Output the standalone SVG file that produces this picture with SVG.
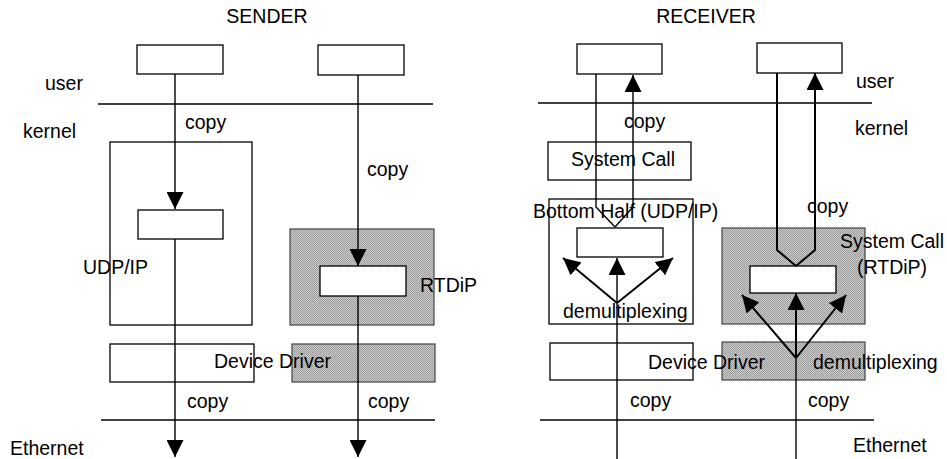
<svg xmlns="http://www.w3.org/2000/svg" width="947" height="459" viewBox="0 0 947 459">
  <defs>
    <!-- stippled grey fill used for the RTDiP blocks -->
    <pattern id="stipple" width="2" height="2" patternUnits="userSpaceOnUse">
      <rect width="2" height="2" fill="#cdcdcd"/>
      <rect width="1" height="1" fill="#9a9a9a"/>
      <rect x="1" y="1" width="1" height="1" fill="#9a9a9a"/>
    </pattern>
    <marker id="head" viewBox="0 0 17 17" refX="17" refY="8.5" markerWidth="17" markerHeight="17" markerUnits="userSpaceOnUse" orient="auto">
      <path d="M0,0 L17,8.5 L0,17 z" fill="#000"/>
    </marker>
  </defs>
  <style>
    text { font-family: "Liberation Sans", Arial, sans-serif; font-size: 19.5px; fill: #000; }
    .box { fill: #fff; stroke: #000; stroke-width: 1.3; }
    .shade { fill: url(#stipple); stroke: #444; stroke-width: 1.2; }
    .rule { stroke: #000; stroke-width: 1.3; fill: none; }
    .flow { stroke: #000; stroke-width: 1.4; fill: none; }
    .thick { stroke: #000; stroke-width: 2; fill: none; }
    .arr { marker-end: url(#head); }
  </style>
  <rect width="947" height="459" fill="#fff"/>

  <!-- ================= SENDER ================= -->
  <g id="sender-title"><text x="267" y="23" text-anchor="middle">SENDER</text></g>
  <g id="sender-layer-labels">
    <text x="45" y="90">user</text>
    <text x="23" y="138">kernel</text>
    <text x="10" y="455">Ethernet</text>
  </g>
  <g id="sender-user-app1"><rect class="box" x="137" y="45" width="86" height="29"/></g>
  <g id="sender-user-app2"><rect class="box" x="318" y="45" width="86" height="30"/></g>

  <g id="sender-udpip">
    <rect class="box" x="110" y="142" width="142" height="183"/>
    <rect class="box" x="138" y="210" width="85" height="29"/>
    <text x="83" y="274">UDP/IP</text>
  </g>
  <g id="sender-rtdip">
    <rect class="shade" x="290" y="229" width="144" height="96"/>
    <rect class="box" x="320" y="266" width="86" height="30"/>
  </g>
  <g id="sender-driver-udp"><rect class="box" x="110" y="344" width="144" height="38"/></g>
  <g id="sender-driver-rtdip"><rect class="shade" x="292" y="344" width="143" height="38"/></g>

  <!-- ================= RECEIVER ================= -->
  <g id="receiver-title"><text x="706" y="23" text-anchor="middle">RECEIVER</text></g>
  <g id="receiver-layer-labels">
    <text x="856" y="88">user</text>
    <text x="855" y="135">kernel</text>
    <text x="853" y="452">Ethernet</text>
  </g>
  <g id="receiver-user-app1"><rect class="box" x="577" y="44" width="85" height="30"/></g>
  <g id="receiver-user-app2"><rect class="box" x="757" y="43" width="85" height="30"/></g>

  <g id="receiver-syscall"><rect class="box" x="548" y="142" width="143" height="38"/>
    <text x="571" y="166">System Call</text></g>
  <g id="receiver-bottom-half">
    <rect class="box" x="549" y="199" width="144" height="125"/>
    <rect class="box" x="577" y="228" width="86" height="29"/>
  </g>
  <g id="receiver-rtdip">
    <rect class="shade" x="722" y="228" width="143" height="96"/>
    <rect class="box" x="750" y="266" width="86" height="27"/>
  </g>
  <g id="receiver-driver-udp"><rect class="box" x="550" y="343" width="143" height="37"/></g>
  <g id="receiver-driver-rtdip"><rect class="shade" x="722" y="342" width="143" height="38"/></g>

  <!-- ================= connectors ================= -->
  <g id="connectors">
    <!-- user / kernel and kernel / Ethernet boundaries -->
    <line class="rule" x1="98" y1="104" x2="433" y2="104"/>
    <line class="rule" x1="101" y1="420" x2="435" y2="420"/>
    <line class="rule" x1="538" y1="103" x2="872" y2="103"/>
    <line class="rule" x1="540" y1="420" x2="874" y2="420"/>

    <!-- sender: UDP/IP path -->
    <line class="flow arr" x1="175" y1="74" x2="175" y2="209"/>
    <line class="flow arr" x1="175" y1="239" x2="175" y2="457"/>
    <!-- sender: RTDiP path -->
    <line class="flow arr" x1="358" y1="75" x2="358" y2="266"/>
    <line class="flow arr" x1="358" y1="296" x2="358" y2="457"/>

    <!-- receiver: UDP/IP path -->
    <line class="flow" x1="617" y1="459" x2="617" y2="303"/>
    <line class="thick arr" x1="617" y1="303" x2="563" y2="258"/>
    <line class="flow arr" x1="617" y1="303" x2="617" y2="258"/>
    <line class="thick arr" x1="617" y1="303" x2="673" y2="258"/>
    <polyline class="flow" points="596,74 596,207 615,227"/>
    <polyline class="flow arr" points="615,227 633,207 633,75"/>

    <!-- receiver: RTDiP path -->
    <line class="flow" x1="796" y1="459" x2="796" y2="358"/>
    <line class="thick arr" x1="796" y1="358" x2="742" y2="295"/>
    <line class="thick arr" x1="796" y1="358" x2="796" y2="293"/>
    <line class="thick arr" x1="796" y1="358" x2="846" y2="295"/>
    <polyline class="thick" points="777,73 777,250 796,266"/>
    <polyline class="thick arr" points="796,266 815,250 815,73"/>
  </g>

  <!-- labels printed over the drawing -->
  <g id="sender-labels">
    <text x="185" y="129">copy</text>
    <text x="367" y="176">copy</text>
    <text x="420" y="292">RTDiP</text>
    <text x="214" y="368">Device Driver</text>
    <text x="187" y="408">copy</text>
    <text x="368" y="408">copy</text>
  </g>
  <g id="receiver-labels">
    <text x="624" y="128">copy</text>
    <text x="533" y="218">Bottom Half (UDP/IP)</text>
    <text x="807" y="213">copy</text>
    <text x="840" y="248">System Call</text>
    <text x="857" y="274">(RTDiP)</text>
    <text x="563" y="318">demultiplexing</text>
    <text x="648" y="369">Device Driver</text>
    <text x="813" y="369">demultiplexing</text>
    <text x="630" y="407">copy</text>
    <text x="808" y="407">copy</text>
  </g>
</svg>
